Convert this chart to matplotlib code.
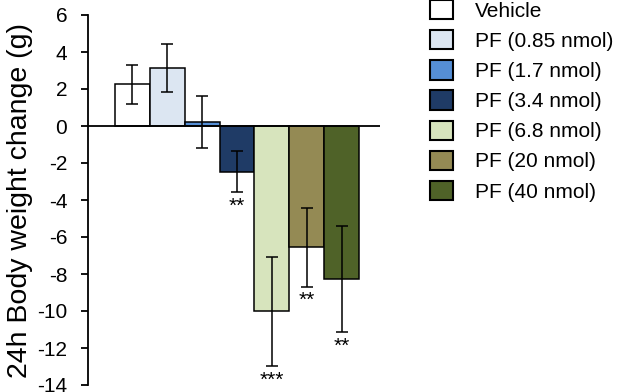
import matplotlib
matplotlib.use("Agg")
import matplotlib.pyplot as plt
from matplotlib.patches import Patch

plt.rcParams['font.family'] = ['Liberation Sans', 'DejaVu Sans']

groups = ["Vehicle", "PF (0.85 nmol)", "PF (1.7 nmol)", "PF (3.4 nmol)",
          "PF (6.8 nmol)", "PF (20 nmol)", "PF (40 nmol)"]
means = [2.25, 3.13, 0.22, -2.46, -10.02, -6.56, -8.27]
sems = [1.05, 1.30, 1.40, 1.11, 2.96, 2.12, 2.88]
stars = ["", "", "", "**", "***", "**", "**"]
colors = ["#ffffff", "#dce6f2", "#558ed5", "#1f3b66",
          "#d7e4bd", "#948a54", "#4f6228"]
yticks = list(range(-14, 7, 2))

fig = plt.figure(figsize=(6.17, 3.92), dpi=100)
ax = fig.add_axes([88 / 617, 1 - 385 / 392, 292 / 617, 370 / 392])

x = list(range(len(groups)))
ax.bar(x, means, width=1.0, color=colors, edgecolor="black", linewidth=1.1,
       zorder=2)
ax.errorbar(x, means, yerr=sems, fmt="none", ecolor="black", elinewidth=1.1,
            capsize=4, capthick=1.1, zorder=3)
ax.axhline(0, color="black", linewidth=1.3, zorder=4)

for xi, m, s, st in zip(x, means, sems, stars):
    if st:
        ax.text(xi, m - s - 0.25, st, ha="center", va="top", fontsize=15)

ax.set_xlim(-1.27, 7.1)
ax.set_ylim(-14, 6)
ax.set_yticks(yticks)
ax.set_yticklabels([str(t) for t in yticks], fontsize=15)
ax.set_xticks([])
for side in ("top", "right", "bottom"):
    ax.spines[side].set_visible(False)
ax.spines["left"].set_linewidth(1.3)
ax.tick_params(axis="y", direction="out", length=5, width=1.3, pad=10)
ax.set_ylabel("24h Body weight change (g)", fontsize=20.5, labelpad=3)

handles = [Patch(facecolor=c, edgecolor="black", linewidth=1.5) for c in colors]
fig.legend(handles, groups, loc="upper left", bbox_to_anchor=(430 / 617, 1.0),
           frameon=False, fontsize=15, handlelength=1.1, handleheight=1.05,
           handletextpad=1.05, labelspacing=0.45, borderaxespad=0.0,
           borderpad=0.0)

fig.savefig("out.png", dpi=100)
